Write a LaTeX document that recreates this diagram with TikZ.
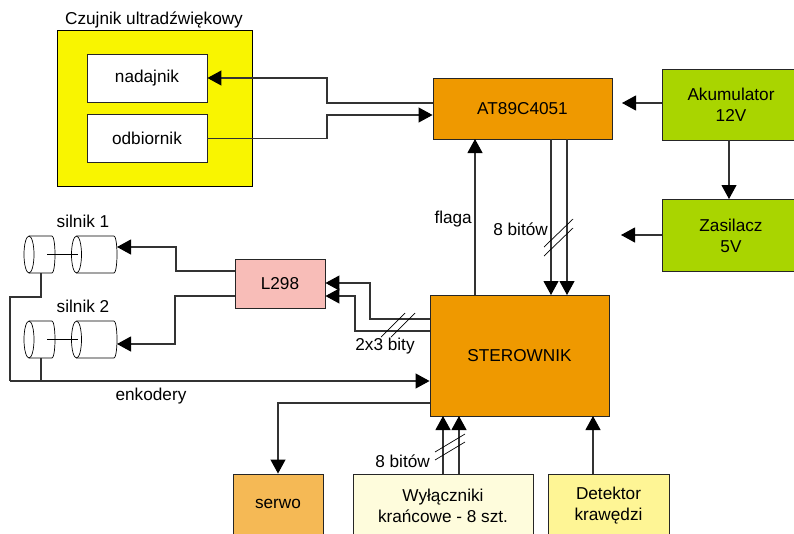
\documentclass[tikz,border=0pt]{standalone}
\usepackage{fontspec}
\setmainfont{Liberation Sans}
\usetikzlibrary{arrows.meta}
\definecolor{orangebox}{HTML}{EF9900}
\definecolor{greenbox}{HTML}{A9D500}
\definecolor{pinkbox}{HTML}{F8BDB8}
\definecolor{serwobox}{HTML}{F5B955}
\definecolor{switchbox}{HTML}{FEFCDC}
\definecolor{edgebox}{HTML}{FEF595}
\definecolor{sensorbox}{HTML}{F9F500}
\definecolor{wire}{HTML}{333333}
\tikzset{
  block/.style={draw=black!85, line width=0.9pt, align=center, inner sep=0pt},
  wirearrow/.style={draw=wire, line width=1.1pt, -{Triangle[length=14pt,width=15pt,color=black]}},
  plainwire/.style={draw=wire, line width=1.1pt},
  busmark/.style={draw=black, line width=0.7pt},
  label/.style={inner sep=0pt},
  pics/motorpart/.style={code={
    \draw [busmark] (0,0) ellipse (5pt and 18.5pt);
    \draw [busmark] (0,-18.5) -- (#1,-18.5) arc (90:-90:3pt and 18.5pt) -- (0,18.5);
    \coordinate (-south) at (12,18.5);
  }}
}
\begin{document}
\begin{tikzpicture}[x=1pt,y=-1pt,font=\fontsize{17.2}{21}\selectfont]
    \useasboundingbox (0,0) rectangle (794,533);

    \node (sensor) [block, draw=black, fill=sensorbox, minimum width=195pt, minimum height=156pt] at (154.5,108) {};
    \node (sensorlabel) [label] at (154,19.5) {Czujnik ultradźwiękowy};
    \node (nadajnik) [block, fill=white, minimum width=120pt, minimum height=48pt] at (147,78) {nadajnik};
    \node (odbiornik) [block, fill=white, minimum width=120pt, minimum height=48pt] at (147,138.5) {odbiornik};

    \node (at89) [block, fill=orangebox, minimum width=179pt, minimum height=61pt] at (522.5,108.5) {AT89C4051};
    \node (akumulator) [block, fill=greenbox, minimum width=138pt, minimum height=71pt] at (731,104.5) {Akumulator\\12V};
    \node (zasilacz) [block, fill=greenbox, minimum width=138pt, minimum height=72pt] at (731,235.5) {Zasilacz\\5V};
    \node (sterownik) [block, fill=orangebox, minimum width=179pt, minimum height=121pt] at (519.5,355.5) {STEROWNIK};
    \node (l298) [block, fill=pinkbox, minimum width=90pt, minimum height=49pt] at (280,283.5) {L298};
    \node (serwo) [block, fill=serwobox, minimum width=90pt, minimum height=60pt] at (278,504) {serwo};
    \node (wylaczniki) [block, fill=switchbox, minimum width=180pt, minimum height=64pt] at (443,506) {Wyłączniki\\krańcowe - 8 szt.};
    \node (detektor) [block, fill=edgebox, minimum width=121pt, minimum height=64pt] at (608.5,506) {Detektor\\krawędzi};

    % silniki
    \pic (enkoder1) at (29,254.5) {motorpart=23};
    \pic (silnik1) at (76.5,254.5) {motorpart=37.5};
    \pic (enkoder2) at (29,339.5) {motorpart=23};
    \pic (silnik2) at (76.5,339.5) {motorpart=37.5};
    \node (silnik1label) [label] at (83,221) {silnik 1};
    \node (silnik2label) [label] at (83,306) {silnik 2};
    \draw [busmark] (47,254.5) -- (78,254.5);
    \draw [busmark] (47,339.5) -- (78,339.5);

    % free ends of the two power arrows
    \coordinate (akuend) at (622,103);
    \coordinate (zasend) at (621,235);
    \coordinate (silnik1in) at (117,247);
    \coordinate (silnik2in) at (117,344);

    \draw [wirearrow] (at89.west |- 0,103) -- (327,103) |- (nadajnik.east);
    \draw [wirearrow] (odbiornik.east) -- (327,138.5) |- (at89.west |- 0,115);
    \draw [wirearrow] (akumulator.west |- akuend) -- (akuend);
    \draw [wirearrow] (zasilacz.west |- zasend) -- (zasend);
    \draw [wirearrow] (729,140) -- (729,199);
    \draw [wirearrow] (551,139) -- (551,295);
    \draw [wirearrow] (567,139) -- (567,295);
    \draw [wirearrow] (sterownik.north -| 475,0) -- (475,139);
    \draw [wirearrow] (sterownik.west |- 0,319) -- (370,319) |- (l298.east |- 0,283);
    \draw [wirearrow] (sterownik.west |- 0,331) -- (355,331) |- (l298.east |- 0,296);
    \draw [wirearrow] (l298.west |- 0,271) -- (176,271) |- (silnik1in);
    \draw [wirearrow] (l298.west |- 0,296) -- (175,296) |- (silnik2in);
    \draw [plainwire] (enkoder1-south) -- (41,297) -- (10,297) -- (10,381);
    \draw [wirearrow] (10,381) -- (sterownik.west |- 0,381);
    \draw [plainwire] (enkoder2-south) -- (41,381);
    \draw [wirearrow] (sterownik.west |- 0,403) -| (serwo.north);
    \draw [wirearrow] (443,474) -- (443,416);
    \draw [wirearrow] (459,474) -- (459,416);
    \draw [wirearrow] (593,474) -- (593,416);

    % bus marks
    \foreach \y in {247,256} \draw [busmark] (544,\y) -- ++(29,-28);
    \foreach \x in {381,391} \draw [busmark] (\x,337) -- ++(24,-24);
    \foreach \y in {452,460} \draw [busmark] (435,\y) -- ++(30,-18);

    \node (flagalabel) [label, anchor=east] at (472,219) {flaga};
    \node (bus1label) [label, anchor=east] at (548,229) {8 bitów};
    \node (bus2label) [label] at (385,346) {2x3 bity};
    \node (bus3label) [label, anchor=east] at (430,461) {8 bitów};
    \node (enkoderylabel) [label] at (151,396) {enkodery};
\end{tikzpicture}
\end{document}
